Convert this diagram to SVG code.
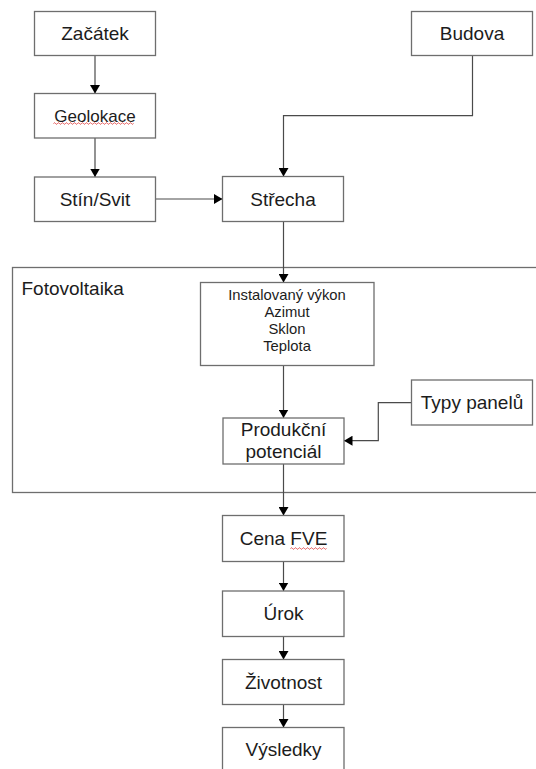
<svg xmlns="http://www.w3.org/2000/svg" width="536" height="769" viewBox="0 0 536 769">
<defs>
<style>
.box{fill:#fff;stroke:#6e6e6e;stroke-width:1.3}
.frame{fill:none;stroke:#6e6e6e;stroke-width:1.3}
.t{font-family:"Liberation Sans",Arial,sans-serif;font-size:19px;fill:#1c1c1c;text-anchor:middle}
.s{font-family:"Liberation Sans",Arial,sans-serif;font-size:14.8px;fill:#1c1c1c;text-anchor:middle}
.c{fill:none;stroke:#4a4a4a;stroke-width:1.2}
.sq{fill:none;stroke:#e04040;stroke-width:0.9}
</style>
<marker id="ah" markerUnits="userSpaceOnUse" markerWidth="10" markerHeight="10" refX="8.5" refY="5" orient="auto" viewBox="0 0 10 10">
<path d="M0,0 L8.5,5 L0,10 z" fill="#000"/>
</marker>
</defs>
<rect width="536" height="769" fill="#fff"/>
<g id="fotovoltaika">
<rect class="frame" x="12.5" y="267.5" width="540" height="225"/>
<text class="t" x="21.5" y="295" style="text-anchor:start">Fotovoltaika</text>
</g>
<g id="connectors">
<line class="c" x1="95" y1="55.5" x2="95" y2="93.5" marker-end="url(#ah)"/>
<line class="c" x1="95" y1="138" x2="95" y2="177" marker-end="url(#ah)"/>
<line class="c" x1="155.5" y1="199" x2="222.5" y2="199" marker-end="url(#ah)"/>
<polyline class="c" points="472.5,55.5 472.5,115.7 283.5,115.7 283.5,176.5" marker-end="url(#ah)"/>
<line class="c" x1="283.5" y1="221.5" x2="283.5" y2="282.5" marker-end="url(#ah)"/>
<line class="c" x1="283.5" y1="365.5" x2="283.5" y2="418" marker-end="url(#ah)"/>
<polyline class="c" points="411.5,402.7 378.3,402.7 378.3,440.7 344,440.7" marker-end="url(#ah)"/>
<line class="c" x1="283.5" y1="464" x2="283.5" y2="515.5" marker-end="url(#ah)"/>
<line class="c" x1="283.5" y1="561.5" x2="283.5" y2="591" marker-end="url(#ah)"/>
<line class="c" x1="283.5" y1="636.5" x2="283.5" y2="659.5" marker-end="url(#ah)"/>
<line class="c" x1="283.5" y1="704.5" x2="283.5" y2="727.5" marker-end="url(#ah)"/>
</g>
<g id="zacatek">
<rect class="box" x="34.5" y="11.5" width="121" height="44"/>
<text class="t" x="95" y="39.5">Začátek</text>
</g>
<g id="geolokace">
<rect class="box" x="34.5" y="93.5" width="121" height="44.5"/>
<text class="t" x="95" y="121.5" style="font-size:17px">Geolokace</text>
<path class="sq" d="M53.5,123.5 q1,-1.5 2,0 t2,0 t2,0 t2,0 t2,0 t2,0 t2,0 t2,0 t2,0 t2,0 t2,0 t2,0 t2,0 t2,0 t2,0 t2,0 t2,0 t2,0 t2,0 t2,0 t2,0 t2,0 t2,0 t2,0 t2,0 t2,0 t2,0 t2,0 t2,0 t2,0 t2,0 t2,0 t2,0 t2,0 t2,0 t2,0 t2,0 t2,0 t2,0 t2,0"/>
</g>
<g id="stin">
<rect class="box" x="34.5" y="177" width="121" height="44.5"/>
<text class="t" x="95" y="205.5">Stín/Svit</text>
</g>
<g id="strecha">
<rect class="box" x="222.5" y="176.5" width="121" height="45"/>
<text class="t" x="283" y="205.5">Střecha</text>
</g>
<g id="budova">
<rect class="box" x="411.5" y="11.5" width="121" height="44"/>
<text class="t" x="472" y="39.5">Budova</text>
</g>
<g id="parametry">
<rect class="box" x="200.5" y="282.5" width="173.5" height="83"/>
<text class="s" x="287" y="300">Instalovaný výkon</text>
<text class="s" x="287" y="317">Azimut</text>
<text class="s" x="287" y="333.8">Sklon</text>
<text class="s" x="287" y="350.6">Teplota</text>
</g>
<g id="produkcni">
<rect class="box" x="223" y="418" width="121" height="46"/>
<text class="t" x="283.5" y="435.7">Produkční</text>
<text class="t" x="283.5" y="457.5">potenciál</text>
</g>
<g id="typy">
<rect class="box" x="411.5" y="380" width="121" height="45"/>
<text class="t" x="472" y="408.5">Typy panelů</text>
</g>
<g id="cena">
<rect class="box" x="222.5" y="515.5" width="121.5" height="46"/>
<text class="t" x="283.5" y="545">Cena FVE</text>
<path class="sq" d="M290.5,548.5 q1,-1.5 2,0 t2,0 t2,0 t2,0 t2,0 t2,0 t2,0 t2,0 t2,0 t2,0 t2,0 t2,0 t2,0 t2,0 t2,0 t2,0 t2,0 t2,0"/>
</g>
<g id="urok">
<rect class="box" x="222.5" y="591" width="121.5" height="45.5"/>
<text class="t" x="283.5" y="620">Úrok</text>
</g>
<g id="zivotnost">
<rect class="box" x="222.5" y="659.5" width="121.5" height="45"/>
<text class="t" x="283.5" y="688.5">Životnost</text>
</g>
<g id="vysledky">
<rect class="box" x="222.5" y="727.5" width="121.5" height="46"/>
<text class="t" x="283.5" y="756">Výsledky</text>
</g>
</svg>
